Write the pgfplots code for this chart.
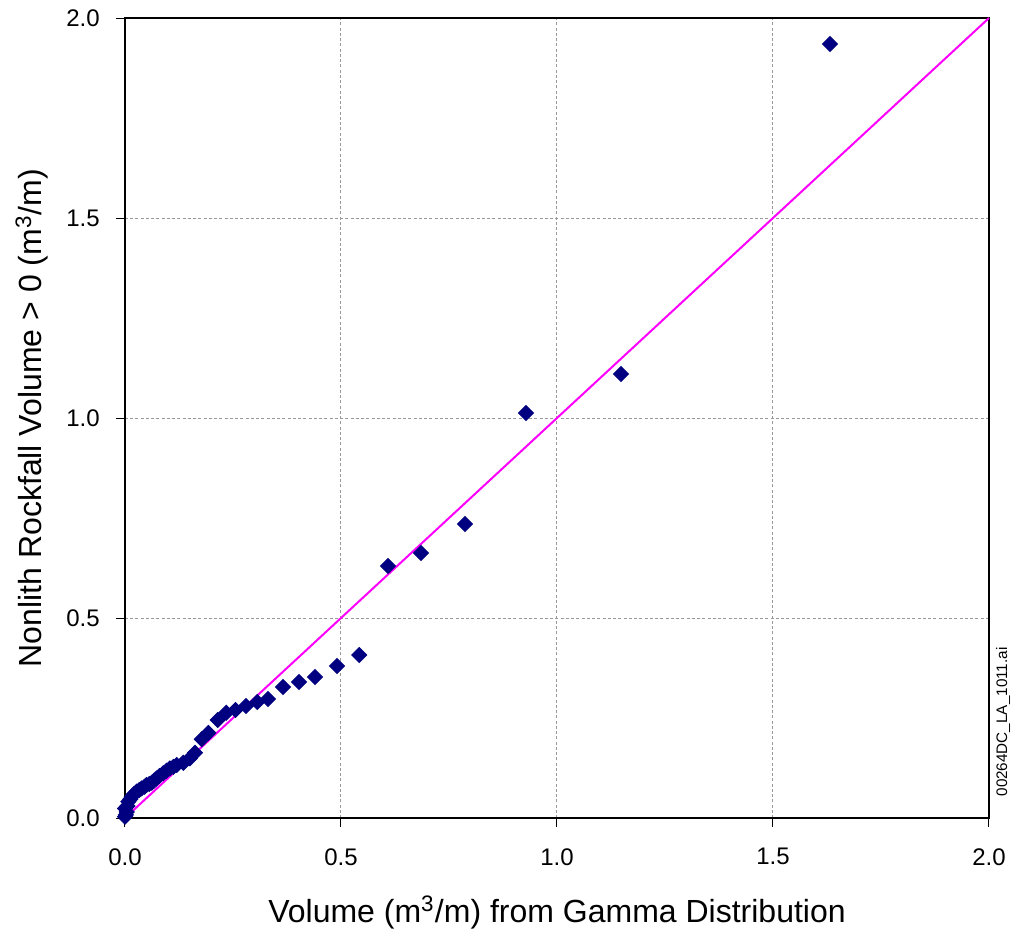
\documentclass[border=0pt]{standalone}
\usepackage{pgfplots}
\pgfplotsset{compat=1.18}
\usepackage{fontspec}
\setmainfont{Liberation Sans}
\definecolor{navy}{RGB}{0,0,128}
\definecolor{mag}{RGB}{255,0,255}
\begin{document}
\begin{tikzpicture}[x=1pt,y=1pt]
\path[use as bounding box] (-50,-46) rectangle (355.2,327.2);
\begin{axis}[
  at={(0,0)}, anchor=south west,
  scale only axis, width=345.6pt, height=320pt,
  xmin=0, xmax=2, ymin=0, ymax=2,
  xtick={0,0.5,...,2}, ytick={0,0.5,...,2},
  xtick pos=left, ytick pos=left,
  tick align=outside, major tick length=3.6pt,
  tick style={black, thin},
  axis line style={black, line width=0.9pt},
  grid=major, major grid style={gray!80, dash pattern=on 1.2pt off 0.9pt, line width=0.4pt},
  /pgf/number format/assume math mode=true,
  /pgf/number format/.cd, fixed, fixed zerofill, precision=1, /pgfplots/.cd,
  ticklabel style={font=\fontsize{9.6}{11}\selectfont},
  xticklabel style={yshift=-5pt},
  yticklabel style={xshift=-3pt},
  xlabel={Volume (m\textsuperscript{3}/m) from Gamma Distribution},
  ylabel={Nonlith Rockfall Volume > 0 (m\textsuperscript{3}/m)},
  label style={font=\fontsize{12.8}{15}\selectfont},
  xlabel style={at={(axis description cs:0.5,-0.13)}, anchor=base},
  ylabel style={at={(axis description cs:-0.0961,0.5)}, anchor=base},
  clip=false,
]
\addplot[mag, line width=0.8pt] coordinates {(0,0) (2,2)};
\addplot[only marks, mark=square*, mark size=2.1pt, mark options={rotate=45, fill=navy, draw=navy}] coordinates {
(0.000,0.003) (0.002,0.008) (0.004,0.015) (0.000,0.024) (0.006,0.030) (0.0077,0.041)
(0.012,0.047) (0.0155,0.053) (0.021,0.060) (0.027,0.066) (0.033,0.070) (0.0386,0.074)
(0.045,0.078) (0.050,0.0825) (0.056,0.085) (0.062,0.088) (0.068,0.094) (0.073,0.099)
(0.080,0.105) (0.0887,0.112) (0.096,0.118) (0.104,0.124) (0.112,0.128) (0.1196,0.1325)
(0.135,0.138) (0.150,0.149) (0.162,0.163) (0.1775,0.197) (0.193,0.213) (0.2145,0.245)
(0.2345,0.263) (0.256,0.270) (0.280,0.280) (0.306,0.290) (0.331,0.2975) (0.366,0.3275)
(0.403,0.340) (0.440,0.3525) (0.491,0.380) (0.542,0.4075) (0.609,0.630) (0.685,0.6625)
(0.787,0.735) (0.928,1.0125) (1.148,1.110) (1.632,1.935)
};
\end{axis}
\node[rotate=90, anchor=center, font=\fontsize{6.1}{7}\selectfont] at (351.2,38.4) {00264DC\_LA\_1011.ai};
\end{tikzpicture}
\end{document}
